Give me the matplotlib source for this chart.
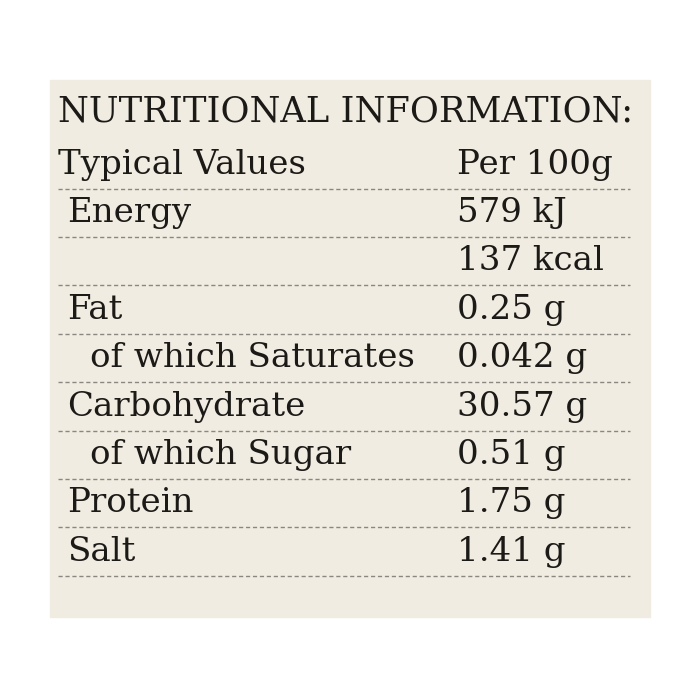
import matplotlib.pyplot as plt
from matplotlib.patches import Rectangle

title = "NUTRITIONAL INFORMATION:"
header = ["Typical Values", "Per 100g"]
labels = ["Energy", "", "Fat", "of which Saturates", "Carbohydrate",
          "of which Sugar", "Protein", "Salt"]
values = ["579 kJ", "137 kcal", "0.25 g", "0.042 g", "30.57 g",
          "0.51 g", "1.75 g", "1.41 g"]
indent = [False, False, False, True, False, True, False, False]

fig = plt.figure(figsize=(7, 7), dpi=100)
ax = fig.add_axes([0, 0, 1, 1])
ax.set_xlim(0, 700)
ax.set_ylim(700, 0)
ax.axis("off")

ax.add_patch(Rectangle((50, 80), 600, 537, color="#f1ece2", zorder=0))

font = dict(family="DejaVu Serif", color="#1c1a17", va="center")
ax.text(58, 112, title, fontsize=25.4, **font)
ax.text(58, 165, header[0], fontsize=24.5, **font)
ax.text(457, 165, header[1], fontsize=24.5, **font)

y0, step = 213, 48.4
ax.plot([58, 630], [189, 189], ls=(0, (3, 2)), color="#8a8680", lw=1)
for i, (lab, val) in enumerate(zip(labels, values)):
    y = y0 + i * step
    ax.text(90 if indent[i] else 67, y, lab, fontsize=24.5, **font)
    ax.text(457, y, val, fontsize=24.5, **font)
    ax.plot([58, 630], [y + 24, y + 24], ls=(0, (3, 2)), color="#8a8680", lw=1)

fig.savefig("out.png", facecolor="white")
